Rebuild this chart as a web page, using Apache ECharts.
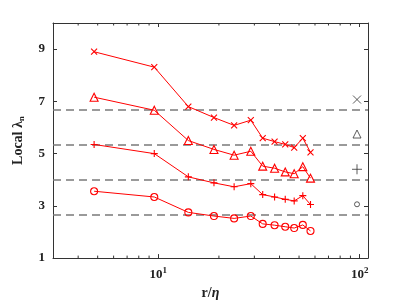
<!DOCTYPE html>
<html>
<head>
<meta charset="utf-8">
<script src="https://cdn.jsdelivr.net/npm/echarts@6/dist/echarts.min.js"></script>
<style>html,body{margin:0;padding:0;background:#fff;}#c{width:407px;height:305px;}</style>
</head>
<body>
<div id="c"></div>
<script>
// r/eta positions
const rEta = [4.8, 9.55, 14.1, 18.9, 23.8, 28.8, 33.0, 37.8, 42.7, 47.3, 52.2, 57.0];
// local lambda_n for each order
const lamCross    = [8.90, 8.31, 6.80, 6.38, 6.08, 6.28, 5.59, 5.46, 5.35, 5.23, 5.59, 5.05];
const lamTriangle = [7.16, 6.66, 5.50, 5.16, 4.94, 5.09, 4.52, 4.44, 4.30, 4.23, 4.50, 4.06];
const lamPlus     = [5.35, 5.00, 4.11, 3.88, 3.73, 3.85, 3.43, 3.34, 3.25, 3.19, 3.39, 3.05];
const lamCircle   = [3.56, 3.34, 2.75, 2.61, 2.52, 2.61, 2.31, 2.26, 2.20, 2.15, 2.27, 2.04];
// reference (dashed) levels
const refLevels = [6.67, 5.33, 4.0, 2.67];
// black reference symbols at the right
const refSymX = 97;
const refSymY = [7.07, 5.75, 4.4, 3.06];
// minor tick positions on the log axis
const minorTicks = [4, 5, 6, 7, 8, 9, 20, 30, 40, 50, 60, 70, 80, 90];
const yTicks = [1, 3, 5, 7, 9];

const CROSS = 'path://M0,0L10,10M10,0L0,10';
const PLUS = 'path://M5,0L5,10M0,5L10,5';
const RED = '#ff0000';
const FONT = 'Liberation Serif';

function redSeries(data, symbol, size) {
  return {
    type: 'line',
    data: rEta.map((x, i) => [x, data[i]]),
    symbol: symbol,
    symbolSize: size,
    showSymbol: true,
    lineStyle: {color: RED, width: 1},
    itemStyle: {color: 'rgba(0,0,0,0)', borderColor: RED, borderWidth: 1.1},
    z: 5,
    silent: true,
    animation: false
  };
}
function blackSym(y, symbol, size) {
  return {
    type: 'scatter',
    data: [[refSymX, y]],
    symbol: symbol,
    symbolSize: size,
    itemStyle: {color: 'rgba(0,0,0,0)', borderColor: '#333', borderWidth: 1},
    silent: true,
    animation: false,
    z: 6
  };
}

const chart = echarts.init(document.getElementById('c'), null, {renderer: 'canvas'});
const axisCommon = {
  axisLine: {show: true, lineStyle: {color: '#333', width: 1}},
  axisTick: {show: true, inside: true, length: 4, lineStyle: {color: '#333'}},
  splitLine: {show: false}
};
chart.setOption({
  animation: false,
  grid: {left: 53, right: 39, top: 23, bottom: 43},
  xAxis: [
    Object.assign({
      type: 'log', logBase: 10, min: 3, max: 110, position: 'bottom',
      name: 'r/{it|η}', nameLocation: 'middle', nameGap: 26,
      nameTextStyle: {fontFamily: FONT, fontWeight: 'bold', fontSize: 14, color: '#222',
        rich: {it: {fontFamily: FONT, fontStyle: 'italic', fontWeight: 'bold', fontSize: 14, color: '#222'}}},
      axisLabel: {
        showMinLabel: false, showMaxLabel: false, margin: 8,
        formatter: function (v) {
          if (Math.abs(v - 10) < 1e-6) return '10{s|1}';
          if (Math.abs(v - 100) < 1e-6) return '10{s|2}';
          return '';
        },
        fontFamily: FONT, fontWeight: 'bold', fontSize: 13, color: '#222',
        rich: {s: {fontFamily: FONT, fontWeight: 'bold', fontSize: 9, verticalAlign: 'top', padding: [0, 0, 8, 0], color: '#222'}}
      }
    }, axisCommon),
    Object.assign({
      type: 'log', logBase: 10, min: 3, max: 110, position: 'top',
      axisLabel: {show: false}
    }, axisCommon)
  ],
  yAxis: [
    Object.assign({
      type: 'value', min: 1, max: 10, interval: 2, position: 'left',
      name: 'Local λ{sub|n}', nameLocation: 'middle', nameGap: 27,
      nameTextStyle: {fontFamily: FONT, fontWeight: 'bold', fontSize: 14, color: '#222',
        rich: {sub: {fontFamily: FONT, fontWeight: 'bold', fontSize: 9, verticalAlign: 'bottom', padding: [6, 0, 0, 0], color: '#222'}}},
      axisLabel: {showMaxLabel: false, margin: 8, fontFamily: FONT, fontWeight: 'bold', fontSize: 13, color: '#222'}
    }, axisCommon),
    Object.assign({
      type: 'value', min: 1, max: 10, interval: 2, position: 'right',
      axisLabel: {show: false}
    }, axisCommon)
  ],
  series: [
    {
      type: 'line', data: [[3, 1], [110, 1]], symbol: 'none', lineStyle: {width: 0, opacity: 0},
      silent: true,
      markLine: {
        silent: true, symbol: 'none', label: {show: false},
        lineStyle: {color: '#7a7a7a', width: 1.6, type: [8, 5]},
        data: refLevels.map(v => ({yAxis: v}))
      },
      z: 3
    },
    {
      type: 'custom',
      data: minorTicks.map(x => [x, 1]),
      silent: true,
      clip: false,
      renderItem: function (params, api) {
        const x = api.value(0);
        const pb = api.coord([x, 1]);
        const pt = api.coord([x, 10]);
        return {
          type: 'group',
          children: [
            {type: 'line', shape: {x1: pb[0], y1: pb[1], x2: pb[0], y2: pb[1] - 2.5}, style: {stroke: '#333', lineWidth: 1}},
            {type: 'line', shape: {x1: pt[0], y1: pt[1], x2: pt[0], y2: pt[1] + 2.5}, style: {stroke: '#333', lineWidth: 1}}
          ]
        };
      },
      z: 4
    },
    redSeries(lamCross, CROSS, 6),
    redSeries(lamTriangle, 'triangle', 8),
    redSeries(lamPlus, PLUS, 7),
    redSeries(lamCircle, 'circle', 7),
    blackSym(refSymY[0], CROSS, 8),
    blackSym(refSymY[1], 'triangle', 8),
    blackSym(refSymY[2], PLUS, 10),
    blackSym(refSymY[3], 'circle', 5)
  ]
});
</script>
</body>
</html>
